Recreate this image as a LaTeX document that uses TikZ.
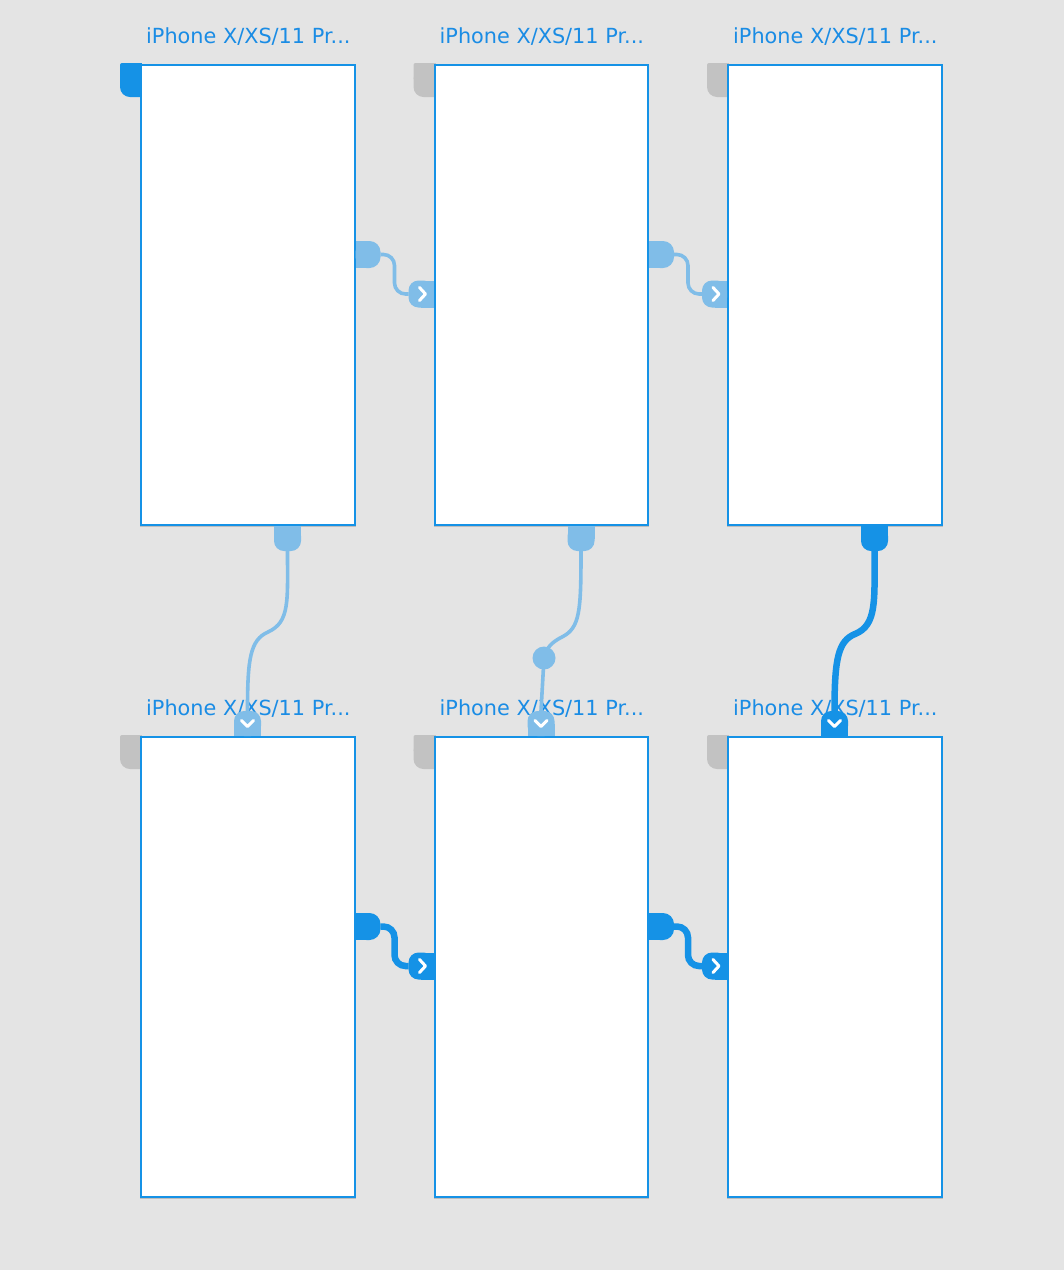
\documentclass[tikz,border=0pt]{standalone}
\usepackage{fontspec}
\setmainfont{DejaVu Sans}
\usetikzlibrary{calc}
\definecolor{bg}{HTML}{E4E4E4}
\definecolor{fblue}{HTML}{1592E6}
\definecolor{lblue}{HTML}{80BDE8}
\definecolor{tgray}{HTML}{C2C2C2}
\definecolor{tblue}{HTML}{1A8CE4}
\definecolor{shadowgray}{HTML}{BDBDBD}
\begin{document}
\begin{tikzpicture}[x=1pt,y=-1pt,
  frame/.style={draw=fblue, line width=2pt, fill=white, minimum width=213.5pt,
    minimum height=460pt, inner sep=0pt, outer sep=0pt, anchor=north west},
  title/.style={text=tblue, font=\fontsize{20.8pt}{24pt}\selectfont, anchor=base west, inner sep=0pt},
  htab/.style={inner sep=0pt, outer sep=0pt, minimum width=25pt, minimum height=27pt},
  vtab/.style={inner sep=0pt, outer sep=0pt, minimum width=27pt, minimum height=25pt},
  chev/.style={white, line width=3pt, line cap=round, line join=round},
  lconn/.style={lblue, line width=3.6pt},
  dconn/.style={fblue, line width=6.5pt},
  dotnode/.style={circle, fill=lblue, minimum size=23pt, inner sep=0pt},
]
\fill[bg] (0,0) rectangle (1064,1270);
\useasboundingbox (0,0) rectangle (1064,1270);

% frames with corner tabs and titles
\foreach \c/\x/\r/\y/\tc in {1/141/1/65/fblue, 2/434.5/1/65/tgray, 3/728/1/65/tgray,
                              1/141/2/737/tgray, 2/434.5/2/737/tgray, 3/728/2/737/tgray}{
  \fill[\tc, rounded corners=2pt] (\x-21,\y-2) rectangle (\x+1,\y+15);
  \fill[\tc] (\x-8,\y-2) rectangle (\x+1,\y+15);
  \fill[\tc, rounded corners=10pt] (\x-21,\y+4) rectangle (\x+10,\y+32);
  \fill[shadowgray] (\x-1,\y) rectangle (\x+214.5,\y+462.3);
  \node[frame] (f\c\r) at (\x,\y) {};
  \node[title] (t\c\r) at (\x+5,\y-21.3) {iPhone X/XS/11 Pr...};
}

% horizontal connectors
\foreach \c/\n in {1/2,2/3}{
  \foreach \r/\col/\st in {1/lblue/lconn, 2/fblue/dconn}{
    \node[htab, anchor=west] (hs\c\r) at ($(f\c\r.north east)+(1,189.5)$) {};
    \node[htab, anchor=east] (ht\c\r) at ($(f\n\r.north west)+(-1,229)$) {};
    \draw[\st, rounded corners=11pt] (hs\c\r.east) -- ++(14,0) |- (ht\c\r.west);
    \fill[\col, rounded corners=11pt] (hs\c\r.north west) rectangle (hs\c\r.south east);
    \fill[\col] (hs\c\r.north west) rectangle (hs\c\r.south);
    \fill[\col, rounded corners=10pt] (ht\c\r.north west) rectangle (ht\c\r.south east);
    \fill[\col] (ht\c\r.north) rectangle (ht\c\r.south east);
    \draw[chev] ($(ht\c\r.center)+(-1.5,-6.5)$) -- ++(6,6.5) -- ++(-6,6.5);
  }
}

% vertical connectors
\foreach \c in {1,2,3}{
  \node[vtab, anchor=north] (vs\c) at ($(f\c1.south west)+(146.5,1)$) {};
  \node[vtab, anchor=south] (vt\c) at ($(f\c2.north west)+(106.5,-1)$) {};
}
\coordinate (m1) at (268,632);
\coordinate (m2) at (562,637);
\coordinate (m3) at (855,634);
\coordinate (dotc) at (544,658);

\draw[lconn] (vs1.south) .. controls +(0,50) and +(22,-10) .. (m1)
             .. controls +(-18,8) and +(0,-52) .. (vt1.north);
\draw[lconn] (vs2.south) .. controls +(0,60) and +(18,-9) .. (m2)
             .. controls +(-10,5) and +(2,-10) .. (dotc) -- (vt2.north);
\draw[dconn] (vs3.south) .. controls +(0,50) and +(22,-9) .. (m3)
             .. controls +(-17,7) and +(0,-52) .. (vt3.north);
\node[dotnode] (dot) at (dotc) {};

\foreach \c/\col in {1/lblue,2/lblue,3/fblue}{
  \fill[\col, rounded corners=10pt] (vs\c.north west) rectangle (vs\c.south east);
  \fill[\col] (vs\c.north west) rectangle (vs\c.east);
  \fill[\col, rounded corners=10pt] (vt\c.north west) rectangle (vt\c.south east);
  \fill[\col] (vt\c.west) rectangle (vt\c.south east);
  \draw[chev] ($(vt\c.center)+(-6,-3)$) -- ++(6,6) -- ++(6,-6);
}
\end{tikzpicture}
\end{document}
